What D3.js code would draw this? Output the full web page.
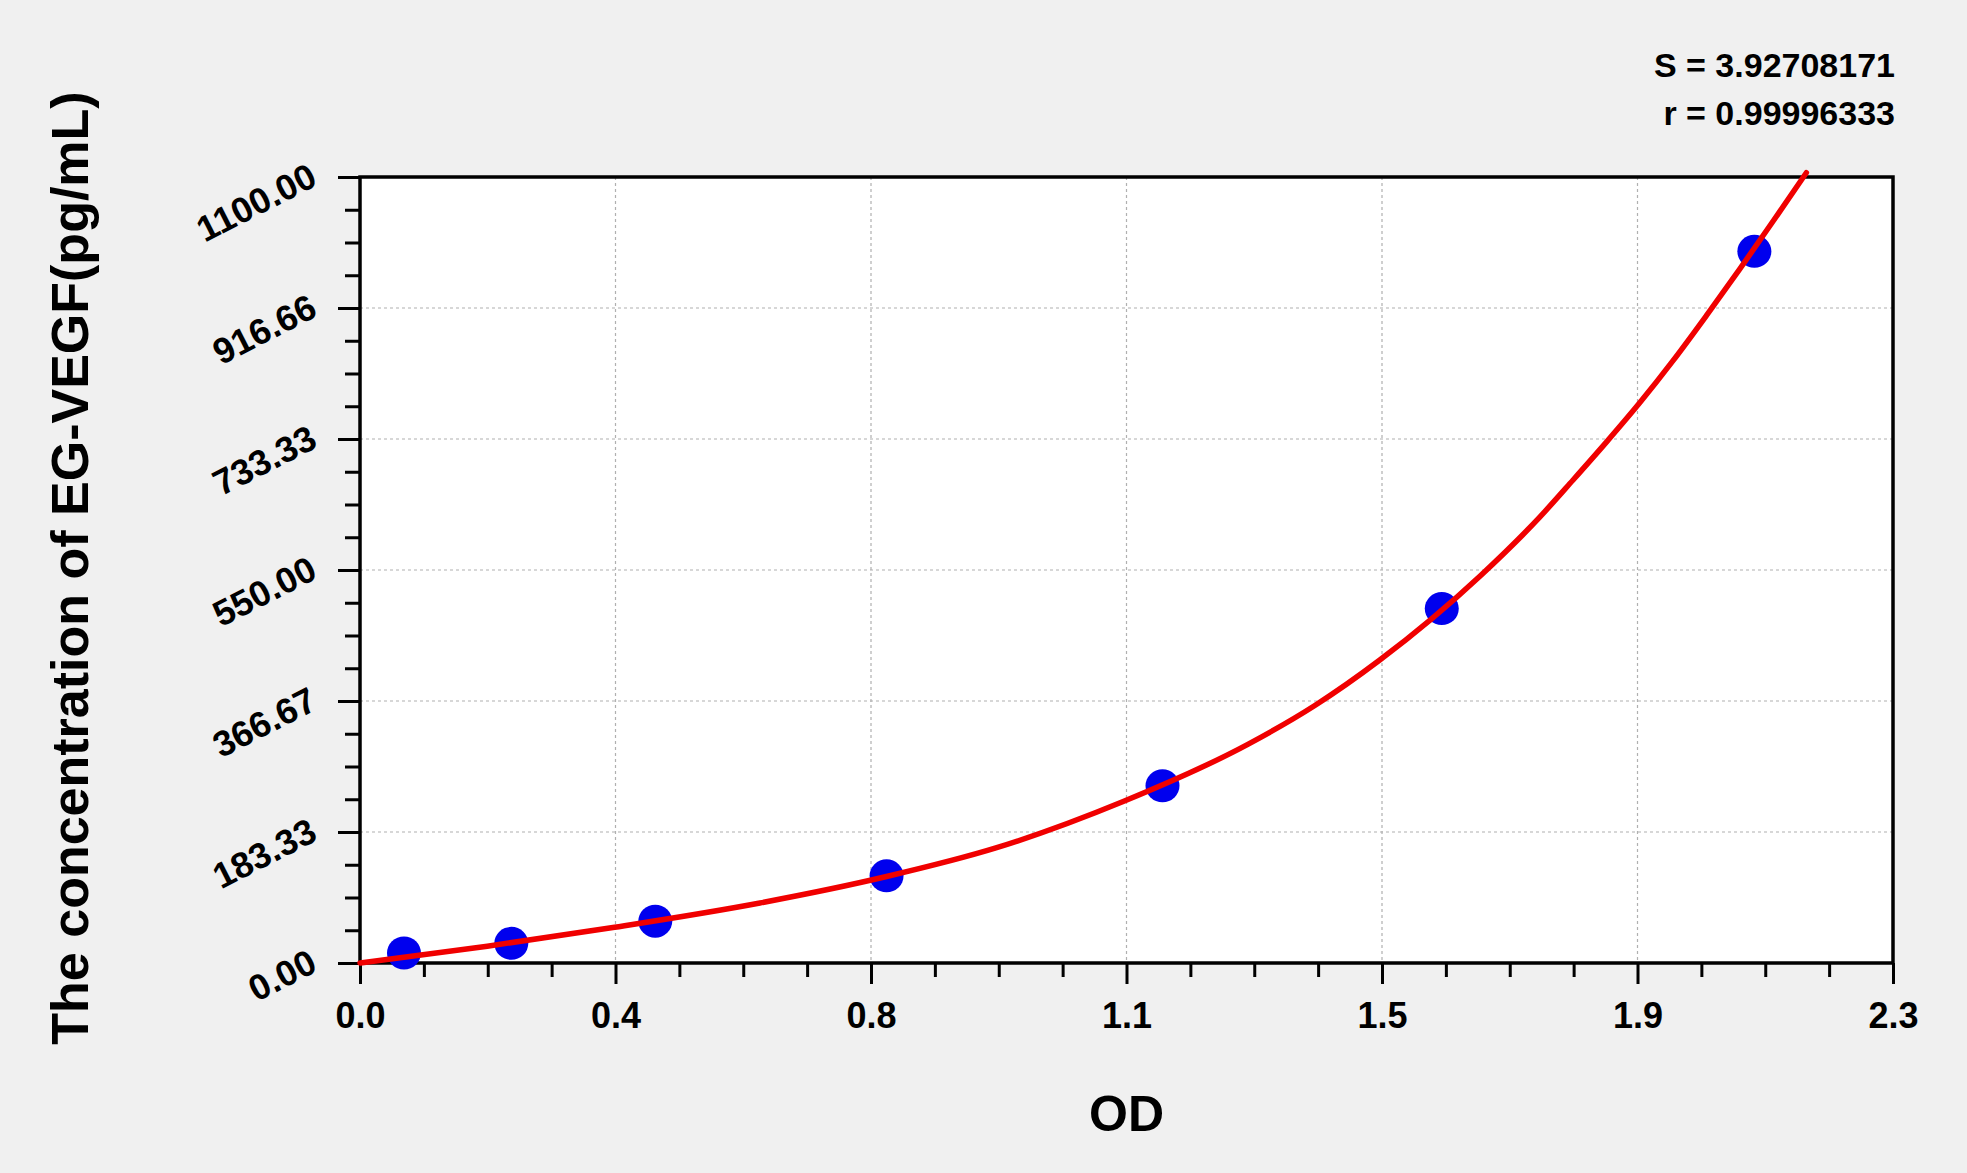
<!DOCTYPE html>
<html>
<head>
<meta charset="utf-8">
<script src="https://cdn.jsdelivr.net/npm/d3@7"></script>
<style>
  html, body { margin: 0; padding: 0; background: #f0f0f0; }
  svg { display: block; }
  text { font-family: "Liberation Sans", Arial, sans-serif; font-weight: bold; fill: #000; }
</style>
</head>
<body>
<svg id="chart" width="1967" height="1173"></svg>
<script>
// ---- data ----
const pointOD   = [0.066, 0.227, 0.443, 0.790, 1.204, 1.623, 2.092];
const pointConc = [14, 27.5, 58.5, 122, 248, 496, 996];

const curveOD   = [0, 0.191, 0.382, 0.600, 0.790, 0.954, 1.145, 1.332, 1.432, 1.530, 1.681, 1.770, 1.820, 1.870, 1.920, 1.970, 2.020, 2.070, 2.120, 2.170];
const curveConc = [0, 23.5, 50, 84, 121, 161, 226, 306, 360, 424, 542, 624, 676, 729, 784, 843, 906, 971, 1038, 1106];

const xTickValues = [0, 0.38333, 0.76667, 1.15, 1.53333, 1.91667, 2.3];
const xTickLabels = ["0.0", "0.4", "0.8", "1.1", "1.5", "1.9", "2.3"];
const yTickValues = [0, 183.333, 366.667, 550, 733.333, 916.667, 1100];
const yTickLabels = ["0.00", "183.33", "366.67", "550.00", "733.33", "916.66", "1100.00"];

const xTitle = "OD";
const yTitle = "The concentration of EG-VEGF(pg/mL)";
const statsLines = ["S = 3.92708171", "r = 0.99996333"];

// ---- layout ----
const pLeft = 360, pRight = 1893, pTop = 177, pBottom = 963;
const svg = d3.select("#chart");

const x = d3.scaleLinear().domain([0, 2.3]).range([pLeft, pRight]);
const y = d3.scaleLinear().domain([0, 1100]).range([pBottom, pTop]);

// plot background
svg.append("rect")
  .attr("x", pLeft).attr("y", pTop)
  .attr("width", pRight - pLeft).attr("height", pBottom - pTop)
  .attr("fill", "#ffffff");

// grid
const grid = svg.append("g").attr("stroke", "#b0b0b0").attr("stroke-width", 1.2).attr("stroke-dasharray", "3,3");
grid.selectAll("line.v").data(xTickValues.slice(1, -1)).join("line").attr("class", "v")
  .attr("x1", d => x(d)).attr("x2", d => x(d))
  .attr("y1", pTop).attr("y2", pBottom);
grid.selectAll("line.h").data(yTickValues.slice(1, -1)).join("line").attr("class", "h")
  .attr("x1", pLeft).attr("x2", pRight)
  .attr("y1", d => y(d)).attr("y2", d => y(d));

// minor ticks
const xMinor = d3.range(0, 25).map(i => i * 2.3 / 24).filter((d, i) => i % 4 !== 0);
const yMinor = d3.range(0, 25).map(i => i * 1100 / 24).filter((d, i) => i % 4 !== 0);

const xMinorAxis = d3.axisBottom(x).tickValues(xMinor).tickSize(14).tickFormat("");
const yMinorAxis = d3.axisLeft(y).tickValues(yMinor).tickSize(15).tickFormat("");

svg.append("g").attr("transform", `translate(0,${pBottom})`).call(xMinorAxis)
  .call(g => g.select(".domain").remove())
  .selectAll("line").attr("stroke", "#000").attr("stroke-width", 3);
svg.append("g").attr("transform", `translate(${pLeft},0)`).call(yMinorAxis)
  .call(g => g.select(".domain").remove())
  .selectAll("line").attr("stroke", "#000").attr("stroke-width", 3);

// major axes
const xAxis = d3.axisBottom(x).tickValues(xTickValues).tickSize(21)
  .tickFormat((d, i) => xTickLabels[i]);
const gx = svg.append("g").attr("transform", `translate(0,${pBottom})`).call(xAxis);
gx.select(".domain").remove();
gx.selectAll("line").attr("stroke", "#000").attr("stroke-width", 3);
gx.selectAll("text")
  .attr("y", 65).attr("dy", null)
  .attr("font-size", 36)
  .attr("font-family", "Liberation Sans, Arial, sans-serif")
  .attr("font-weight", "bold")
  .attr("fill", "#000");

const yAxis = d3.axisLeft(y).tickValues(yTickValues).tickSize(22)
  .tickFormat((d, i) => yTickLabels[i]);
const gy = svg.append("g").attr("transform", `translate(${pLeft},0)`).call(yAxis);
gy.select(".domain").remove();
gy.selectAll("line").attr("stroke", "#000").attr("stroke-width", 3);
gy.selectAll("text")
  .attr("x", null).attr("dy", null)
  .attr("text-anchor", "end")
  .attr("transform", "translate(-41,7) rotate(-27)")
  .attr("font-size", 36)
  .attr("font-family", "Liberation Sans, Arial, sans-serif")
  .attr("font-weight", "bold")
  .attr("fill", "#000");

// frame
svg.append("rect")
  .attr("x", pLeft).attr("y", pTop)
  .attr("width", pRight - pLeft).attr("height", pBottom - pTop)
  .attr("fill", "none").attr("stroke", "#000").attr("stroke-width", 3.5);

// points
const pts = pointOD.map((d, i) => ({ od: d, c: pointConc[i] }));
svg.append("g").selectAll("ellipse").data(pts).join("ellipse")
  .attr("cx", d => x(d.od)).attr("cy", d => y(d.c))
  .attr("rx", 17).attr("ry", 16.5)
  .attr("fill", "#0000ee");

// fitted curve
const curveData = curveOD.map((d, i) => ({ od: d, c: curveConc[i] }));
const line = d3.line().x(d => x(d.od)).y(d => y(d.c)).curve(d3.curveMonotoneX);
svg.append("path")
  .datum(curveData)
  .attr("d", line)
  .attr("fill", "none")
  .attr("stroke", "#f00000")
  .attr("stroke-width", 5.5)
  .attr("stroke-linecap", "round");

// titles
svg.append("text")
  .attr("x", (pLeft + pRight) / 2).attr("y", 1131)
  .attr("text-anchor", "middle")
  .attr("font-size", 50)
  .text(xTitle);

svg.append("text")
  .attr("transform", `translate(88,568) rotate(-90)`)
  .attr("text-anchor", "middle")
  .attr("font-size", 52)
  .text(yTitle);

// stats
svg.append("g").selectAll("text").data(statsLines).join("text")
  .attr("x", 1895)
  .attr("y", (d, i) => 77 + i * 48)
  .attr("text-anchor", "end")
  .attr("font-size", 34)
  .text(d => d);
</script>
</body>
</html>
